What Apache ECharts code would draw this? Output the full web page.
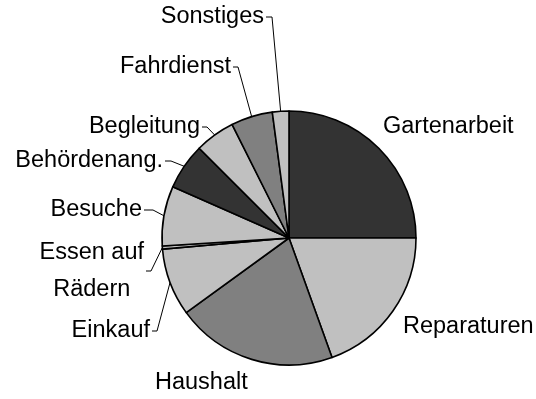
<!DOCTYPE html>
<html>
<head>
<meta charset="utf-8">
<script src="https://cdn.jsdelivr.net/npm/echarts@6/dist/echarts.min.js"></script>
<style>
  html, body { margin: 0; padding: 0; background: #ffffff; }
  #chart { width: 536px; height: 399px; }
</style>
</head>
<body>
<div id="chart"></div>
<script>
// Anteile der Tätigkeiten (Prozent), im Uhrzeigersinn ab 12 Uhr
const categories = ['Gartenarbeit', 'Reparaturen', 'Haushalt', 'Einkauf', 'Essen auf Rädern',
                    'Besuche', 'Behördenang.', 'Begleitung', 'Fahrdienst', 'Sonstiges'];
const shares = [25.0, 19.5, 20.5, 8.6, 0.4, 7.6, 5.9, 5.1, 5.3, 2.1];

// Graustufen der Segmente
const sliceColors = ['#333333', '#c0c0c0', '#808080', '#c0c0c0', '#c0c0c0',
                     '#c0c0c0', '#333333', '#c0c0c0', '#808080', '#c0c0c0'];

// Beschriftungsanker: x, y, Ausrichtung, Länge des waagrechten Führungsstrichs (0 = keine Linie)
const labelAnchors = [
  { x: 383, y: 127, align: 'left',  tick: 0 },
  { x: 403, y: 327, align: 'left',  tick: 0 },
  { x: 155, y: 383, align: 'left',  tick: 0 },
  { x: 150, y: 331, align: 'right', tick: 7 },
  { x: 144, y: 271, align: 'right', tick: 7 },
  { x: 142, y: 210, align: 'right', tick: 11 },
  { x: 163, y: 161, align: 'right', tick: 8 },
  { x: 200, y: 127, align: 'right', tick: 7 },
  { x: 231, y: 67,  align: 'right', tick: 7 },
  { x: 264, y: 17,  align: 'right', tick: 8 }
];

const FONT = '"Liberation Sans", Arial, Helvetica, sans-serif';
const FONT_SIZE = 23.5;

const chart = echarts.init(document.getElementById('chart'), null, { renderer: 'canvas' });

const data = categories.map((name, i) => ({
  name: name,
  value: shares[i],
  itemStyle: { color: sliceColors[i] },
  labelLine: { show: labelAnchors[i].tick > 0 }
}));

chart.setOption({
  backgroundColor: '#ffffff',
  animation: false,
  series: [{
    type: 'pie',
    center: [289, 238],
    radius: 127,
    startAngle: 90,
    clockwise: true,
    avoidLabelOverlap: false,
    silent: true,
    data: data,
    itemStyle: { borderColor: '#000000', borderWidth: 1.6 },
    label: {
      show: true,
      position: 'outside',
      color: '#000000',
      fontFamily: FONT,
      fontSize: FONT_SIZE,
      formatter: function (p) {
        if (p.name === 'Essen auf Rädern') {
          return '{c|Essen auf}\n{c|Rädern}';
        }
        return p.name;
      },
      rich: {
        c: { align: 'center', fontFamily: FONT, fontSize: FONT_SIZE, color: '#000000', lineHeight: 37 }
      }
    },
    labelLine: {
      show: true,
      length: 10,
      length2: 5,
      lineStyle: { color: '#000000', width: 1 }
    },
    labelLayout: function (params) {
      const a = labelAnchors[params.dataIndex];
      const out = { x: a.x, y: a.y, align: a.align, verticalAlign: 'middle' };
      if (a.tick > 0 && params.labelLinePoints) {
        const dir = a.align === 'right' ? 1 : -1;
        const start = params.labelLinePoints[0];
        const end = [a.x + dir * 2, a.y];
        const bend = [a.x + dir * a.tick, a.y];
        out.labelLinePoints = [start, bend, end];
      }
      return out;
    },
    emphasis: { disabled: true }
  }]
});
</script>
</body>
</html>
